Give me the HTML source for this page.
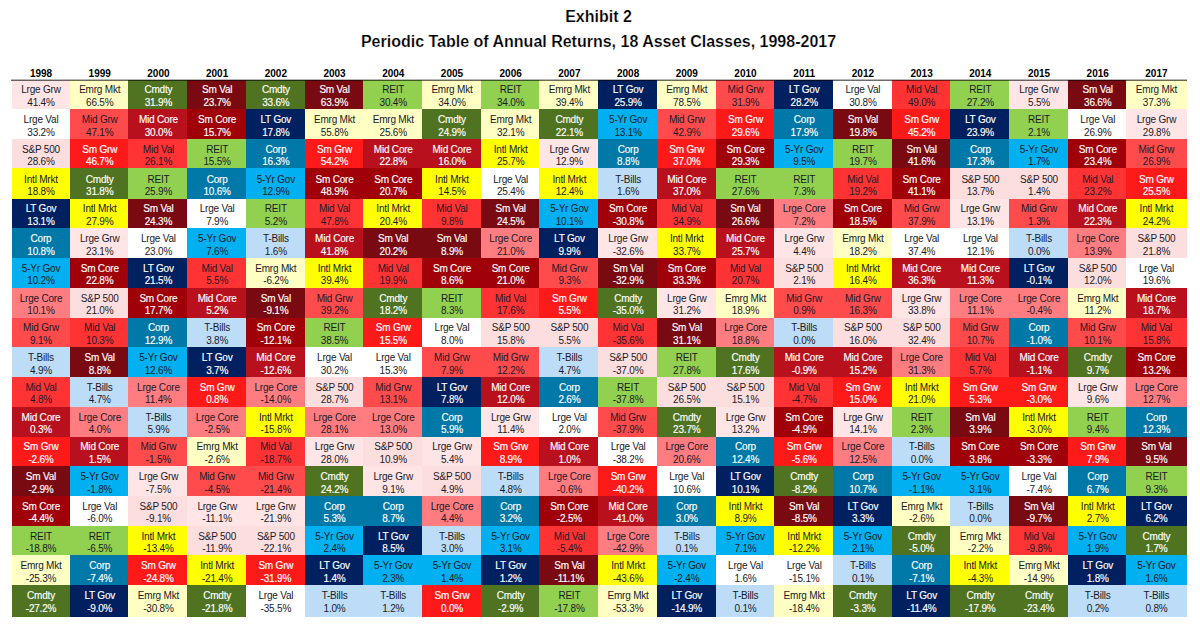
<!DOCTYPE html>
<html><head><meta charset="utf-8"><style>
html,body{margin:0;padding:0;background:#fff;}
body{width:1200px;height:634px;position:relative;overflow:hidden;font-family:"Liberation Sans",sans-serif;}
.t{position:absolute;left:-1.5px;width:1200px;text-align:center;font-weight:bold;color:#000;white-space:nowrap;font-size:16px;-webkit-text-stroke:0.2px #fff;}
.y{position:absolute;top:67px;height:13px;font-size:10px;font-weight:bold;text-align:center;color:#000;line-height:13px;}
.hl{position:absolute;left:11px;width:1176px;top:79px;height:1px;background:rgba(40,30,30,0.32);}
.hl2{position:absolute;left:11px;width:1176px;top:80px;height:1px;background:rgba(0,0,0,0.58);}
.c{position:absolute;}
.c i{position:absolute;width:100px;font-style:normal;text-align:center;font-size:10px;line-height:12.5px;letter-spacing:-0.2px;white-space:nowrap;}
.w i{-webkit-text-stroke:0.15px #fff;}
.d{color:#1a1a28;}
.w{color:#fff;}
</style></head><body>
<div class="t" style="top:7.8px;">Exhibit 2</div>
<div class="t" style="top:32.9px;">Periodic Table of Annual Returns, 18 Asset Classes, 1998-2017</div>

<div class="y" style="left:-9px;width:100px">1998</div>
<div class="y" style="left:49.71px;width:100px">1999</div>
<div class="y" style="left:108.42px;width:100px">2000</div>
<div class="y" style="left:167.13px;width:100px">2001</div>
<div class="y" style="left:225.83px;width:100px">2002</div>
<div class="y" style="left:284.54px;width:100px">2003</div>
<div class="y" style="left:343.25px;width:100px">2004</div>
<div class="y" style="left:401.96px;width:100px">2005</div>
<div class="y" style="left:460.66px;width:100px">2006</div>
<div class="y" style="left:519.37px;width:100px">2007</div>
<div class="y" style="left:578.08px;width:100px">2008</div>
<div class="y" style="left:636.79px;width:100px">2009</div>
<div class="y" style="left:695.49px;width:100px">2010</div>
<div class="y" style="left:754.2px;width:100px">2011</div>
<div class="y" style="left:812.91px;width:100px">2012</div>
<div class="y" style="left:871.62px;width:100px">2013</div>
<div class="y" style="left:930.32px;width:100px">2014</div>
<div class="y" style="left:989.03px;width:100px">2015</div>
<div class="y" style="left:1047.74px;width:100px">2016</div>
<div class="y" style="left:1106.45px;width:100px">2017</div>
<div class="c d" style="left:12px;top:80px;width:58px;height:29px;background:#FFE5E5"><i style="top:4.36px;left:-21px">Lrge Grw<br>41.4%</i></div>
<div class="c d" style="left:12px;top:109px;width:58px;height:30px;background:#FFFFFF"><i style="top:5.11px;left:-21px">Lrge Val<br>33.2%</i></div>
<div class="c d" style="left:12px;top:139px;width:58px;height:29px;background:#FDDEDE"><i style="top:4.87px;left:-21px">S&amp;P 500<br>28.6%</i></div>
<div class="c d" style="left:12px;top:168px;width:58px;height:31px;background:#FFFF00"><i style="top:5.62px;left:-21px">Intl Mrkt<br>18.8%</i></div>
<div class="c w" style="left:12px;top:199px;width:58px;height:29px;background:#002060"><i style="top:4.38px;left:-21px">LT Gov<br>13.1%</i></div>
<div class="c w" style="left:12px;top:228px;width:58px;height:30px;background:#0078A8"><i style="top:5.13px;left:-21px">Corp<br>10.8%</i></div>
<div class="c d" style="left:12px;top:258px;width:58px;height:30px;background:#00B0F0"><i style="top:4.88px;left:-21px">5-Yr Gov<br>10.2%</i></div>
<div class="c d" style="left:12px;top:288px;width:58px;height:30px;background:#FF7C80"><i style="top:4.64px;left:-21px">Lrge Core<br>10.1%</i></div>
<div class="c d" style="left:12px;top:318px;width:58px;height:29px;background:#FF4B4B"><i style="top:4.39px;left:-21px">Mid Grw<br>9.1%</i></div>
<div class="c d" style="left:12px;top:347px;width:58px;height:30px;background:#BDDCF7"><i style="top:5.15px;left:-21px">T-Bills<br>4.9%</i></div>
<div class="c d" style="left:12px;top:377px;width:58px;height:30px;background:#FF3333"><i style="top:4.9px;left:-21px">Mid Val<br>4.8%</i></div>
<div class="c w" style="left:12px;top:407px;width:58px;height:30px;background:#B8101C"><i style="top:4.65px;left:-21px">Mid Core<br>0.3%</i></div>
<div class="c w" style="left:12px;top:437px;width:58px;height:29px;background:#FF1A1A"><i style="top:4.41px;left:-21px">Sm Grw<br>-2.6%</i></div>
<div class="c w" style="left:12px;top:466px;width:58px;height:30px;background:#7A0A12"><i style="top:5.16px;left:-21px">Sm Val<br>-2.9%</i></div>
<div class="c w" style="left:12px;top:496px;width:58px;height:30px;background:#A00008"><i style="top:4.92px;left:-21px">Sm Core<br>-4.4%</i></div>
<div class="c d" style="left:12px;top:526px;width:58px;height:29px;background:#92D050"><i style="top:4.67px;left:-21px">REIT<br>-18.8%</i></div>
<div class="c d" style="left:12px;top:555px;width:58px;height:30px;background:#FFFFC4"><i style="top:5.42px;left:-21px">Emrg Mkt<br>-25.3%</i></div>
<div class="c w" style="left:12px;top:585px;width:58px;height:32px;background:#4F7320"><i style="top:5.18px;left:-21px">Cmdty<br>-27.2%</i></div>
<div class="c d" style="left:70px;top:80px;width:58px;height:29px;background:#FFFFC4"><i style="top:4.36px;left:-20.29px">Emrg Mkt<br>66.5%</i></div>
<div class="c d" style="left:70px;top:109px;width:58px;height:30px;background:#FF4B4B"><i style="top:5.11px;left:-20.29px">Mid Grw<br>47.1%</i></div>
<div class="c w" style="left:70px;top:139px;width:58px;height:29px;background:#FF1A1A"><i style="top:4.87px;left:-20.29px">Sm Grw<br>46.7%</i></div>
<div class="c w" style="left:70px;top:168px;width:58px;height:31px;background:#4F7320"><i style="top:5.62px;left:-20.29px">Cmdty<br>31.8%</i></div>
<div class="c d" style="left:70px;top:199px;width:58px;height:29px;background:#FFFF00"><i style="top:4.38px;left:-20.29px">Intl Mrkt<br>27.9%</i></div>
<div class="c d" style="left:70px;top:228px;width:58px;height:30px;background:#FFE5E5"><i style="top:5.13px;left:-20.29px">Lrge Grw<br>23.1%</i></div>
<div class="c w" style="left:70px;top:258px;width:58px;height:30px;background:#A00008"><i style="top:4.88px;left:-20.29px">Sm Core<br>22.8%</i></div>
<div class="c d" style="left:70px;top:288px;width:58px;height:30px;background:#FDDEDE"><i style="top:4.64px;left:-20.29px">S&amp;P 500<br>21.0%</i></div>
<div class="c d" style="left:70px;top:318px;width:58px;height:29px;background:#FF3333"><i style="top:4.39px;left:-20.29px">Mid Val<br>10.3%</i></div>
<div class="c w" style="left:70px;top:347px;width:58px;height:30px;background:#7A0A12"><i style="top:5.15px;left:-20.29px">Sm Val<br>8.8%</i></div>
<div class="c d" style="left:70px;top:377px;width:58px;height:30px;background:#BDDCF7"><i style="top:4.9px;left:-20.29px">T-Bills<br>4.7%</i></div>
<div class="c d" style="left:70px;top:407px;width:58px;height:30px;background:#FF7C80"><i style="top:4.65px;left:-20.29px">Lrge Core<br>4.0%</i></div>
<div class="c w" style="left:70px;top:437px;width:58px;height:29px;background:#B8101C"><i style="top:4.41px;left:-20.29px">Mid Core<br>1.5%</i></div>
<div class="c d" style="left:70px;top:466px;width:58px;height:30px;background:#00B0F0"><i style="top:5.16px;left:-20.29px">5-Yr Gov<br>-1.8%</i></div>
<div class="c d" style="left:70px;top:496px;width:58px;height:30px;background:#FFFFFF"><i style="top:4.92px;left:-20.29px">Lrge Val<br>-6.0%</i></div>
<div class="c d" style="left:70px;top:526px;width:58px;height:29px;background:#92D050"><i style="top:4.67px;left:-20.29px">REIT<br>-6.5%</i></div>
<div class="c w" style="left:70px;top:555px;width:58px;height:30px;background:#0078A8"><i style="top:5.42px;left:-20.29px">Corp<br>-7.4%</i></div>
<div class="c w" style="left:70px;top:585px;width:58px;height:32px;background:#002060"><i style="top:5.18px;left:-20.29px">LT Gov<br>-9.0%</i></div>
<div class="c w" style="left:128px;top:80px;width:59px;height:29px;background:#4F7320"><i style="top:4.36px;left:-19.58px">Cmdty<br>31.9%</i></div>
<div class="c w" style="left:128px;top:109px;width:59px;height:30px;background:#B8101C"><i style="top:5.11px;left:-19.58px">Mid Core<br>30.0%</i></div>
<div class="c d" style="left:128px;top:139px;width:59px;height:29px;background:#FF3333"><i style="top:4.87px;left:-19.58px">Mid Val<br>26.1%</i></div>
<div class="c d" style="left:128px;top:168px;width:59px;height:31px;background:#92D050"><i style="top:5.62px;left:-19.58px">REIT<br>25.9%</i></div>
<div class="c w" style="left:128px;top:199px;width:59px;height:29px;background:#7A0A12"><i style="top:4.38px;left:-19.58px">Sm Val<br>24.3%</i></div>
<div class="c d" style="left:128px;top:228px;width:59px;height:30px;background:#FFFFFF"><i style="top:5.13px;left:-19.58px">Lrge Val<br>23.0%</i></div>
<div class="c w" style="left:128px;top:258px;width:59px;height:30px;background:#002060"><i style="top:4.88px;left:-19.58px">LT Gov<br>21.5%</i></div>
<div class="c w" style="left:128px;top:288px;width:59px;height:30px;background:#A00008"><i style="top:4.64px;left:-19.58px">Sm Core<br>17.7%</i></div>
<div class="c w" style="left:128px;top:318px;width:59px;height:29px;background:#0078A8"><i style="top:4.39px;left:-19.58px">Corp<br>12.9%</i></div>
<div class="c d" style="left:128px;top:347px;width:59px;height:30px;background:#00B0F0"><i style="top:5.15px;left:-19.58px">5-Yr Gov<br>12.6%</i></div>
<div class="c d" style="left:128px;top:377px;width:59px;height:30px;background:#FF7C80"><i style="top:4.9px;left:-19.58px">Lrge Core<br>11.4%</i></div>
<div class="c d" style="left:128px;top:407px;width:59px;height:30px;background:#BDDCF7"><i style="top:4.65px;left:-19.58px">T-Bills<br>5.9%</i></div>
<div class="c d" style="left:128px;top:437px;width:59px;height:29px;background:#FF4B4B"><i style="top:4.41px;left:-19.58px">Mid Grw<br>-1.5%</i></div>
<div class="c d" style="left:128px;top:466px;width:59px;height:30px;background:#FFE5E5"><i style="top:5.16px;left:-19.58px">Lrge Grw<br>-7.5%</i></div>
<div class="c d" style="left:128px;top:496px;width:59px;height:30px;background:#FDDEDE"><i style="top:4.92px;left:-19.58px">S&amp;P 500<br>-9.1%</i></div>
<div class="c d" style="left:128px;top:526px;width:59px;height:29px;background:#FFFF00"><i style="top:4.67px;left:-19.58px">Intl Mrkt<br>-13.4%</i></div>
<div class="c w" style="left:128px;top:555px;width:59px;height:30px;background:#FF1A1A"><i style="top:5.42px;left:-19.58px">Sm Grw<br>-24.8%</i></div>
<div class="c d" style="left:128px;top:585px;width:59px;height:32px;background:#FFFFC4"><i style="top:5.18px;left:-19.58px">Emrg Mkt<br>-30.8%</i></div>
<div class="c w" style="left:187px;top:80px;width:59px;height:29px;background:#7A0A12"><i style="top:4.36px;left:-19.87px">Sm Val<br>23.7%</i></div>
<div class="c w" style="left:187px;top:109px;width:59px;height:30px;background:#A00008"><i style="top:5.11px;left:-19.87px">Sm Core<br>15.7%</i></div>
<div class="c d" style="left:187px;top:139px;width:59px;height:29px;background:#92D050"><i style="top:4.87px;left:-19.87px">REIT<br>15.5%</i></div>
<div class="c w" style="left:187px;top:168px;width:59px;height:31px;background:#0078A8"><i style="top:5.62px;left:-19.87px">Corp<br>10.6%</i></div>
<div class="c d" style="left:187px;top:199px;width:59px;height:29px;background:#FFFFFF"><i style="top:4.38px;left:-19.87px">Lrge Val<br>7.9%</i></div>
<div class="c d" style="left:187px;top:228px;width:59px;height:30px;background:#00B0F0"><i style="top:5.13px;left:-19.87px">5-Yr Gov<br>7.6%</i></div>
<div class="c d" style="left:187px;top:258px;width:59px;height:30px;background:#FF3333"><i style="top:4.88px;left:-19.87px">Mid Val<br>5.5%</i></div>
<div class="c w" style="left:187px;top:288px;width:59px;height:30px;background:#B8101C"><i style="top:4.64px;left:-19.87px">Mid Core<br>5.2%</i></div>
<div class="c d" style="left:187px;top:318px;width:59px;height:29px;background:#BDDCF7"><i style="top:4.39px;left:-19.87px">T-Bills<br>3.8%</i></div>
<div class="c w" style="left:187px;top:347px;width:59px;height:30px;background:#002060"><i style="top:5.15px;left:-19.87px">LT Gov<br>3.7%</i></div>
<div class="c w" style="left:187px;top:377px;width:59px;height:30px;background:#FF1A1A"><i style="top:4.9px;left:-19.87px">Sm Grw<br>0.8%</i></div>
<div class="c d" style="left:187px;top:407px;width:59px;height:30px;background:#FF7C80"><i style="top:4.65px;left:-19.87px">Lrge Core<br>-2.5%</i></div>
<div class="c d" style="left:187px;top:437px;width:59px;height:29px;background:#FFFFC4"><i style="top:4.41px;left:-19.87px">Emrg Mkt<br>-2.6%</i></div>
<div class="c d" style="left:187px;top:466px;width:59px;height:30px;background:#FF4B4B"><i style="top:5.16px;left:-19.87px">Mid Grw<br>-4.5%</i></div>
<div class="c d" style="left:187px;top:496px;width:59px;height:30px;background:#FFE5E5"><i style="top:4.92px;left:-19.87px">Lrge Grw<br>-11.1%</i></div>
<div class="c d" style="left:187px;top:526px;width:59px;height:29px;background:#FDDEDE"><i style="top:4.67px;left:-19.87px">S&amp;P 500<br>-11.9%</i></div>
<div class="c d" style="left:187px;top:555px;width:59px;height:30px;background:#FFFF00"><i style="top:5.42px;left:-19.87px">Intl Mrkt<br>-21.4%</i></div>
<div class="c w" style="left:187px;top:585px;width:59px;height:32px;background:#4F7320"><i style="top:5.18px;left:-19.87px">Cmdty<br>-21.8%</i></div>
<div class="c w" style="left:246px;top:80px;width:59px;height:29px;background:#4F7320"><i style="top:4.36px;left:-20.17px">Cmdty<br>33.6%</i></div>
<div class="c w" style="left:246px;top:109px;width:59px;height:30px;background:#002060"><i style="top:5.11px;left:-20.17px">LT Gov<br>17.8%</i></div>
<div class="c w" style="left:246px;top:139px;width:59px;height:29px;background:#0078A8"><i style="top:4.87px;left:-20.17px">Corp<br>16.3%</i></div>
<div class="c d" style="left:246px;top:168px;width:59px;height:31px;background:#00B0F0"><i style="top:5.62px;left:-20.17px">5-Yr Gov<br>12.9%</i></div>
<div class="c d" style="left:246px;top:199px;width:59px;height:29px;background:#92D050"><i style="top:4.38px;left:-20.17px">REIT<br>5.2%</i></div>
<div class="c d" style="left:246px;top:228px;width:59px;height:30px;background:#BDDCF7"><i style="top:5.13px;left:-20.17px">T-Bills<br>1.6%</i></div>
<div class="c d" style="left:246px;top:258px;width:59px;height:30px;background:#FFFFC4"><i style="top:4.88px;left:-20.17px">Emrg Mkt<br>-6.2%</i></div>
<div class="c w" style="left:246px;top:288px;width:59px;height:30px;background:#7A0A12"><i style="top:4.64px;left:-20.17px">Sm Val<br>-9.1%</i></div>
<div class="c w" style="left:246px;top:318px;width:59px;height:29px;background:#A00008"><i style="top:4.39px;left:-20.17px">Sm Core<br>-12.1%</i></div>
<div class="c w" style="left:246px;top:347px;width:59px;height:30px;background:#B8101C"><i style="top:5.15px;left:-20.17px">Mid Core<br>-12.6%</i></div>
<div class="c d" style="left:246px;top:377px;width:59px;height:30px;background:#FF7C80"><i style="top:4.9px;left:-20.17px">Lrge Core<br>-14.0%</i></div>
<div class="c d" style="left:246px;top:407px;width:59px;height:30px;background:#FFFF00"><i style="top:4.65px;left:-20.17px">Intl Mrkt<br>-15.8%</i></div>
<div class="c d" style="left:246px;top:437px;width:59px;height:29px;background:#FF3333"><i style="top:4.41px;left:-20.17px">Mid Val<br>-18.7%</i></div>
<div class="c d" style="left:246px;top:466px;width:59px;height:30px;background:#FF4B4B"><i style="top:5.16px;left:-20.17px">Mid Grw<br>-21.4%</i></div>
<div class="c d" style="left:246px;top:496px;width:59px;height:30px;background:#FFE5E5"><i style="top:4.92px;left:-20.17px">Lrge Grw<br>-21.9%</i></div>
<div class="c d" style="left:246px;top:526px;width:59px;height:29px;background:#FDDEDE"><i style="top:4.67px;left:-20.17px">S&amp;P 500<br>-22.1%</i></div>
<div class="c w" style="left:246px;top:555px;width:59px;height:30px;background:#FF1A1A"><i style="top:5.42px;left:-20.17px">Sm Grw<br>-31.9%</i></div>
<div class="c d" style="left:246px;top:585px;width:59px;height:32px;background:#FFFFFF"><i style="top:5.18px;left:-20.17px">Lrge Val<br>-35.5%</i></div>
<div class="c w" style="left:305px;top:80px;width:58px;height:29px;background:#7A0A12"><i style="top:4.36px;left:-20.46px">Sm Val<br>63.9%</i></div>
<div class="c d" style="left:305px;top:109px;width:58px;height:30px;background:#FFFFC4"><i style="top:5.11px;left:-20.46px">Emrg Mkt<br>55.8%</i></div>
<div class="c w" style="left:305px;top:139px;width:58px;height:29px;background:#FF1A1A"><i style="top:4.87px;left:-20.46px">Sm Grw<br>54.2%</i></div>
<div class="c w" style="left:305px;top:168px;width:58px;height:31px;background:#A00008"><i style="top:5.62px;left:-20.46px">Sm Core<br>48.9%</i></div>
<div class="c d" style="left:305px;top:199px;width:58px;height:29px;background:#FF3333"><i style="top:4.38px;left:-20.46px">Mid Val<br>47.8%</i></div>
<div class="c w" style="left:305px;top:228px;width:58px;height:30px;background:#B8101C"><i style="top:5.13px;left:-20.46px">Mid Core<br>41.8%</i></div>
<div class="c d" style="left:305px;top:258px;width:58px;height:30px;background:#FFFF00"><i style="top:4.88px;left:-20.46px">Intl Mrkt<br>39.4%</i></div>
<div class="c d" style="left:305px;top:288px;width:58px;height:30px;background:#FF4B4B"><i style="top:4.64px;left:-20.46px">Mid Grw<br>39.2%</i></div>
<div class="c d" style="left:305px;top:318px;width:58px;height:29px;background:#92D050"><i style="top:4.39px;left:-20.46px">REIT<br>38.5%</i></div>
<div class="c d" style="left:305px;top:347px;width:58px;height:30px;background:#FFFFFF"><i style="top:5.15px;left:-20.46px">Lrge Val<br>30.2%</i></div>
<div class="c d" style="left:305px;top:377px;width:58px;height:30px;background:#FDDEDE"><i style="top:4.9px;left:-20.46px">S&amp;P 500<br>28.7%</i></div>
<div class="c d" style="left:305px;top:407px;width:58px;height:30px;background:#FF7C80"><i style="top:4.65px;left:-20.46px">Lrge Core<br>28.1%</i></div>
<div class="c d" style="left:305px;top:437px;width:58px;height:29px;background:#FFE5E5"><i style="top:4.41px;left:-20.46px">Lrge Grw<br>28.0%</i></div>
<div class="c w" style="left:305px;top:466px;width:58px;height:30px;background:#4F7320"><i style="top:5.16px;left:-20.46px">Cmdty<br>24.2%</i></div>
<div class="c w" style="left:305px;top:496px;width:58px;height:30px;background:#0078A8"><i style="top:4.92px;left:-20.46px">Corp<br>5.3%</i></div>
<div class="c d" style="left:305px;top:526px;width:58px;height:29px;background:#00B0F0"><i style="top:4.67px;left:-20.46px">5-Yr Gov<br>2.4%</i></div>
<div class="c w" style="left:305px;top:555px;width:58px;height:30px;background:#002060"><i style="top:5.42px;left:-20.46px">LT Gov<br>1.4%</i></div>
<div class="c d" style="left:305px;top:585px;width:58px;height:32px;background:#BDDCF7"><i style="top:5.18px;left:-20.46px">T-Bills<br>1.0%</i></div>
<div class="c d" style="left:363px;top:80px;width:59px;height:29px;background:#92D050"><i style="top:4.36px;left:-19.75px">REIT<br>30.4%</i></div>
<div class="c d" style="left:363px;top:109px;width:59px;height:30px;background:#FFFFC4"><i style="top:5.11px;left:-19.75px">Emrg Mkt<br>25.6%</i></div>
<div class="c w" style="left:363px;top:139px;width:59px;height:29px;background:#B8101C"><i style="top:4.87px;left:-19.75px">Mid Core<br>22.8%</i></div>
<div class="c w" style="left:363px;top:168px;width:59px;height:31px;background:#A00008"><i style="top:5.62px;left:-19.75px">Sm Core<br>20.7%</i></div>
<div class="c d" style="left:363px;top:199px;width:59px;height:29px;background:#FFFF00"><i style="top:4.38px;left:-19.75px">Intl Mrkt<br>20.4%</i></div>
<div class="c w" style="left:363px;top:228px;width:59px;height:30px;background:#7A0A12"><i style="top:5.13px;left:-19.75px">Sm Val<br>20.2%</i></div>
<div class="c d" style="left:363px;top:258px;width:59px;height:30px;background:#FF3333"><i style="top:4.88px;left:-19.75px">Mid Val<br>19.9%</i></div>
<div class="c w" style="left:363px;top:288px;width:59px;height:30px;background:#4F7320"><i style="top:4.64px;left:-19.75px">Cmdty<br>18.2%</i></div>
<div class="c w" style="left:363px;top:318px;width:59px;height:29px;background:#FF1A1A"><i style="top:4.39px;left:-19.75px">Sm Grw<br>15.5%</i></div>
<div class="c d" style="left:363px;top:347px;width:59px;height:30px;background:#FFFFFF"><i style="top:5.15px;left:-19.75px">Lrge Val<br>15.3%</i></div>
<div class="c d" style="left:363px;top:377px;width:59px;height:30px;background:#FF4B4B"><i style="top:4.9px;left:-19.75px">Mid Grw<br>13.1%</i></div>
<div class="c d" style="left:363px;top:407px;width:59px;height:30px;background:#FF7C80"><i style="top:4.65px;left:-19.75px">Lrge Core<br>13.0%</i></div>
<div class="c d" style="left:363px;top:437px;width:59px;height:29px;background:#FDDEDE"><i style="top:4.41px;left:-19.75px">S&amp;P 500<br>10.9%</i></div>
<div class="c d" style="left:363px;top:466px;width:59px;height:30px;background:#FFE5E5"><i style="top:5.16px;left:-19.75px">Lrge Grw<br>9.1%</i></div>
<div class="c w" style="left:363px;top:496px;width:59px;height:30px;background:#0078A8"><i style="top:4.92px;left:-19.75px">Corp<br>8.7%</i></div>
<div class="c w" style="left:363px;top:526px;width:59px;height:29px;background:#002060"><i style="top:4.67px;left:-19.75px">LT Gov<br>8.5%</i></div>
<div class="c d" style="left:363px;top:555px;width:59px;height:30px;background:#00B0F0"><i style="top:5.42px;left:-19.75px">5-Yr Gov<br>2.3%</i></div>
<div class="c d" style="left:363px;top:585px;width:59px;height:32px;background:#BDDCF7"><i style="top:5.18px;left:-19.75px">T-Bills<br>1.2%</i></div>
<div class="c d" style="left:422px;top:80px;width:59px;height:29px;background:#FFFFC4"><i style="top:4.36px;left:-20.04px">Emrg Mkt<br>34.0%</i></div>
<div class="c w" style="left:422px;top:109px;width:59px;height:30px;background:#4F7320"><i style="top:5.11px;left:-20.04px">Cmdty<br>24.9%</i></div>
<div class="c w" style="left:422px;top:139px;width:59px;height:29px;background:#B8101C"><i style="top:4.87px;left:-20.04px">Mid Core<br>16.0%</i></div>
<div class="c d" style="left:422px;top:168px;width:59px;height:31px;background:#FFFF00"><i style="top:5.62px;left:-20.04px">Intl Mrkt<br>14.5%</i></div>
<div class="c d" style="left:422px;top:199px;width:59px;height:29px;background:#FF3333"><i style="top:4.38px;left:-20.04px">Mid Val<br>9.8%</i></div>
<div class="c w" style="left:422px;top:228px;width:59px;height:30px;background:#7A0A12"><i style="top:5.13px;left:-20.04px">Sm Val<br>8.9%</i></div>
<div class="c w" style="left:422px;top:258px;width:59px;height:30px;background:#A00008"><i style="top:4.88px;left:-20.04px">Sm Core<br>8.6%</i></div>
<div class="c d" style="left:422px;top:288px;width:59px;height:30px;background:#92D050"><i style="top:4.64px;left:-20.04px">REIT<br>8.3%</i></div>
<div class="c d" style="left:422px;top:318px;width:59px;height:29px;background:#FFFFFF"><i style="top:4.39px;left:-20.04px">Lrge Val<br>8.0%</i></div>
<div class="c d" style="left:422px;top:347px;width:59px;height:30px;background:#FF4B4B"><i style="top:5.15px;left:-20.04px">Mid Grw<br>7.9%</i></div>
<div class="c w" style="left:422px;top:377px;width:59px;height:30px;background:#002060"><i style="top:4.9px;left:-20.04px">LT Gov<br>7.8%</i></div>
<div class="c w" style="left:422px;top:407px;width:59px;height:30px;background:#0078A8"><i style="top:4.65px;left:-20.04px">Corp<br>5.9%</i></div>
<div class="c d" style="left:422px;top:437px;width:59px;height:29px;background:#FFE5E5"><i style="top:4.41px;left:-20.04px">Lrge Grw<br>5.4%</i></div>
<div class="c d" style="left:422px;top:466px;width:59px;height:30px;background:#FDDEDE"><i style="top:5.16px;left:-20.04px">S&amp;P 500<br>4.9%</i></div>
<div class="c d" style="left:422px;top:496px;width:59px;height:30px;background:#FF7C80"><i style="top:4.92px;left:-20.04px">Lrge Core<br>4.4%</i></div>
<div class="c d" style="left:422px;top:526px;width:59px;height:29px;background:#BDDCF7"><i style="top:4.67px;left:-20.04px">T-Bills<br>3.0%</i></div>
<div class="c d" style="left:422px;top:555px;width:59px;height:30px;background:#00B0F0"><i style="top:5.42px;left:-20.04px">5-Yr Gov<br>1.4%</i></div>
<div class="c w" style="left:422px;top:585px;width:59px;height:32px;background:#FF1A1A"><i style="top:5.18px;left:-20.04px">Sm Grw<br>0.0%</i></div>
<div class="c d" style="left:481px;top:80px;width:58px;height:29px;background:#92D050"><i style="top:4.36px;left:-20.34px">REIT<br>34.0%</i></div>
<div class="c d" style="left:481px;top:109px;width:58px;height:30px;background:#FFFFC4"><i style="top:5.11px;left:-20.34px">Emrg Mkt<br>32.1%</i></div>
<div class="c d" style="left:481px;top:139px;width:58px;height:29px;background:#FFFF00"><i style="top:4.87px;left:-20.34px">Intl Mrkt<br>25.7%</i></div>
<div class="c d" style="left:481px;top:168px;width:58px;height:31px;background:#FFFFFF"><i style="top:5.62px;left:-20.34px">Lrge Val<br>25.4%</i></div>
<div class="c w" style="left:481px;top:199px;width:58px;height:29px;background:#7A0A12"><i style="top:4.38px;left:-20.34px">Sm Val<br>24.5%</i></div>
<div class="c d" style="left:481px;top:228px;width:58px;height:30px;background:#FF7C80"><i style="top:5.13px;left:-20.34px">Lrge Core<br>21.0%</i></div>
<div class="c w" style="left:481px;top:258px;width:58px;height:30px;background:#A00008"><i style="top:4.88px;left:-20.34px">Sm Core<br>21.0%</i></div>
<div class="c d" style="left:481px;top:288px;width:58px;height:30px;background:#FF3333"><i style="top:4.64px;left:-20.34px">Mid Val<br>17.6%</i></div>
<div class="c d" style="left:481px;top:318px;width:58px;height:29px;background:#FDDEDE"><i style="top:4.39px;left:-20.34px">S&amp;P 500<br>15.8%</i></div>
<div class="c d" style="left:481px;top:347px;width:58px;height:30px;background:#FF4B4B"><i style="top:5.15px;left:-20.34px">Mid Grw<br>12.2%</i></div>
<div class="c w" style="left:481px;top:377px;width:58px;height:30px;background:#B8101C"><i style="top:4.9px;left:-20.34px">Mid Core<br>12.0%</i></div>
<div class="c d" style="left:481px;top:407px;width:58px;height:30px;background:#FFE5E5"><i style="top:4.65px;left:-20.34px">Lrge Grw<br>11.4%</i></div>
<div class="c w" style="left:481px;top:437px;width:58px;height:29px;background:#FF1A1A"><i style="top:4.41px;left:-20.34px">Sm Grw<br>8.9%</i></div>
<div class="c d" style="left:481px;top:466px;width:58px;height:30px;background:#BDDCF7"><i style="top:5.16px;left:-20.34px">T-Bills<br>4.8%</i></div>
<div class="c w" style="left:481px;top:496px;width:58px;height:30px;background:#0078A8"><i style="top:4.92px;left:-20.34px">Corp<br>3.2%</i></div>
<div class="c d" style="left:481px;top:526px;width:58px;height:29px;background:#00B0F0"><i style="top:4.67px;left:-20.34px">5-Yr Gov<br>3.1%</i></div>
<div class="c w" style="left:481px;top:555px;width:58px;height:30px;background:#002060"><i style="top:5.42px;left:-20.34px">LT Gov<br>1.2%</i></div>
<div class="c w" style="left:481px;top:585px;width:58px;height:32px;background:#4F7320"><i style="top:5.18px;left:-20.34px">Cmdty<br>-2.9%</i></div>
<div class="c d" style="left:539px;top:80px;width:59px;height:29px;background:#FFFFC4"><i style="top:4.36px;left:-19.63px">Emrg Mkt<br>39.4%</i></div>
<div class="c w" style="left:539px;top:109px;width:59px;height:30px;background:#4F7320"><i style="top:5.11px;left:-19.63px">Cmdty<br>22.1%</i></div>
<div class="c d" style="left:539px;top:139px;width:59px;height:29px;background:#FFE5E5"><i style="top:4.87px;left:-19.63px">Lrge Grw<br>12.9%</i></div>
<div class="c d" style="left:539px;top:168px;width:59px;height:31px;background:#FFFF00"><i style="top:5.62px;left:-19.63px">Intl Mrkt<br>12.4%</i></div>
<div class="c d" style="left:539px;top:199px;width:59px;height:29px;background:#00B0F0"><i style="top:4.38px;left:-19.63px">5-Yr Gov<br>10.1%</i></div>
<div class="c w" style="left:539px;top:228px;width:59px;height:30px;background:#002060"><i style="top:5.13px;left:-19.63px">LT Gov<br>9.9%</i></div>
<div class="c d" style="left:539px;top:258px;width:59px;height:30px;background:#FF4B4B"><i style="top:4.88px;left:-19.63px">Mid Grw<br>9.3%</i></div>
<div class="c w" style="left:539px;top:288px;width:59px;height:30px;background:#FF1A1A"><i style="top:4.64px;left:-19.63px">Sm Grw<br>5.5%</i></div>
<div class="c d" style="left:539px;top:318px;width:59px;height:29px;background:#FDDEDE"><i style="top:4.39px;left:-19.63px">S&amp;P 500<br>5.5%</i></div>
<div class="c d" style="left:539px;top:347px;width:59px;height:30px;background:#BDDCF7"><i style="top:5.15px;left:-19.63px">T-Bills<br>4.7%</i></div>
<div class="c w" style="left:539px;top:377px;width:59px;height:30px;background:#0078A8"><i style="top:4.9px;left:-19.63px">Corp<br>2.6%</i></div>
<div class="c d" style="left:539px;top:407px;width:59px;height:30px;background:#FFFFFF"><i style="top:4.65px;left:-19.63px">Lrge Val<br>2.0%</i></div>
<div class="c w" style="left:539px;top:437px;width:59px;height:29px;background:#B8101C"><i style="top:4.41px;left:-19.63px">Mid Core<br>1.0%</i></div>
<div class="c d" style="left:539px;top:466px;width:59px;height:30px;background:#FF7C80"><i style="top:5.16px;left:-19.63px">Lrge Core<br>-0.6%</i></div>
<div class="c w" style="left:539px;top:496px;width:59px;height:30px;background:#A00008"><i style="top:4.92px;left:-19.63px">Sm Core<br>-2.5%</i></div>
<div class="c d" style="left:539px;top:526px;width:59px;height:29px;background:#FF3333"><i style="top:4.67px;left:-19.63px">Mid Val<br>-5.4%</i></div>
<div class="c w" style="left:539px;top:555px;width:59px;height:30px;background:#7A0A12"><i style="top:5.42px;left:-19.63px">Sm Val<br>-11.1%</i></div>
<div class="c d" style="left:539px;top:585px;width:59px;height:32px;background:#92D050"><i style="top:5.18px;left:-19.63px">REIT<br>-17.8%</i></div>
<div class="c w" style="left:598px;top:80px;width:59px;height:29px;background:#002060"><i style="top:4.36px;left:-19.92px">LT Gov<br>25.9%</i></div>
<div class="c d" style="left:598px;top:109px;width:59px;height:30px;background:#00B0F0"><i style="top:5.11px;left:-19.92px">5-Yr Gov<br>13.1%</i></div>
<div class="c w" style="left:598px;top:139px;width:59px;height:29px;background:#0078A8"><i style="top:4.87px;left:-19.92px">Corp<br>8.8%</i></div>
<div class="c d" style="left:598px;top:168px;width:59px;height:31px;background:#BDDCF7"><i style="top:5.62px;left:-19.92px">T-Bills<br>1.6%</i></div>
<div class="c w" style="left:598px;top:199px;width:59px;height:29px;background:#A00008"><i style="top:4.38px;left:-19.92px">Sm Core<br>-30.8%</i></div>
<div class="c d" style="left:598px;top:228px;width:59px;height:30px;background:#FFE5E5"><i style="top:5.13px;left:-19.92px">Lrge Grw<br>-32.6%</i></div>
<div class="c w" style="left:598px;top:258px;width:59px;height:30px;background:#7A0A12"><i style="top:4.88px;left:-19.92px">Sm Val<br>-32.9%</i></div>
<div class="c w" style="left:598px;top:288px;width:59px;height:30px;background:#4F7320"><i style="top:4.64px;left:-19.92px">Cmdty<br>-35.0%</i></div>
<div class="c d" style="left:598px;top:318px;width:59px;height:29px;background:#FF3333"><i style="top:4.39px;left:-19.92px">Mid Val<br>-35.6%</i></div>
<div class="c d" style="left:598px;top:347px;width:59px;height:30px;background:#FDDEDE"><i style="top:5.15px;left:-19.92px">S&amp;P 500<br>-37.0%</i></div>
<div class="c d" style="left:598px;top:377px;width:59px;height:30px;background:#92D050"><i style="top:4.9px;left:-19.92px">REIT<br>-37.8%</i></div>
<div class="c d" style="left:598px;top:407px;width:59px;height:30px;background:#FF4B4B"><i style="top:4.65px;left:-19.92px">Mid Grw<br>-37.9%</i></div>
<div class="c d" style="left:598px;top:437px;width:59px;height:29px;background:#FFFFFF"><i style="top:4.41px;left:-19.92px">Lrge Val<br>-38.2%</i></div>
<div class="c w" style="left:598px;top:466px;width:59px;height:30px;background:#FF1A1A"><i style="top:5.16px;left:-19.92px">Sm Grw<br>-40.2%</i></div>
<div class="c w" style="left:598px;top:496px;width:59px;height:30px;background:#B8101C"><i style="top:4.92px;left:-19.92px">Mid Core<br>-41.0%</i></div>
<div class="c d" style="left:598px;top:526px;width:59px;height:29px;background:#FF7C80"><i style="top:4.67px;left:-19.92px">Lrge Core<br>-42.9%</i></div>
<div class="c d" style="left:598px;top:555px;width:59px;height:30px;background:#FFFF00"><i style="top:5.42px;left:-19.92px">Intl Mrkt<br>-43.6%</i></div>
<div class="c d" style="left:598px;top:585px;width:59px;height:32px;background:#FFFFC4"><i style="top:5.18px;left:-19.92px">Emrg Mkt<br>-53.3%</i></div>
<div class="c d" style="left:657px;top:80px;width:59px;height:29px;background:#FFFFC4"><i style="top:4.36px;left:-20.21px">Emrg Mkt<br>78.5%</i></div>
<div class="c d" style="left:657px;top:109px;width:59px;height:30px;background:#FF4B4B"><i style="top:5.11px;left:-20.21px">Mid Grw<br>42.9%</i></div>
<div class="c w" style="left:657px;top:139px;width:59px;height:29px;background:#FF1A1A"><i style="top:4.87px;left:-20.21px">Sm Grw<br>37.0%</i></div>
<div class="c w" style="left:657px;top:168px;width:59px;height:31px;background:#B8101C"><i style="top:5.62px;left:-20.21px">Mid Core<br>37.0%</i></div>
<div class="c d" style="left:657px;top:199px;width:59px;height:29px;background:#FF3333"><i style="top:4.38px;left:-20.21px">Mid Val<br>34.9%</i></div>
<div class="c d" style="left:657px;top:228px;width:59px;height:30px;background:#FFFF00"><i style="top:5.13px;left:-20.21px">Intl Mrkt<br>33.7%</i></div>
<div class="c w" style="left:657px;top:258px;width:59px;height:30px;background:#A00008"><i style="top:4.88px;left:-20.21px">Sm Core<br>33.3%</i></div>
<div class="c d" style="left:657px;top:288px;width:59px;height:30px;background:#FFE5E5"><i style="top:4.64px;left:-20.21px">Lrge Grw<br>31.2%</i></div>
<div class="c w" style="left:657px;top:318px;width:59px;height:29px;background:#7A0A12"><i style="top:4.39px;left:-20.21px">Sm Val<br>31.1%</i></div>
<div class="c d" style="left:657px;top:347px;width:59px;height:30px;background:#92D050"><i style="top:5.15px;left:-20.21px">REIT<br>27.8%</i></div>
<div class="c d" style="left:657px;top:377px;width:59px;height:30px;background:#FDDEDE"><i style="top:4.9px;left:-20.21px">S&amp;P 500<br>26.5%</i></div>
<div class="c w" style="left:657px;top:407px;width:59px;height:30px;background:#4F7320"><i style="top:4.65px;left:-20.21px">Cmdty<br>23.7%</i></div>
<div class="c d" style="left:657px;top:437px;width:59px;height:29px;background:#FF7C80"><i style="top:4.41px;left:-20.21px">Lrge Core<br>20.6%</i></div>
<div class="c d" style="left:657px;top:466px;width:59px;height:30px;background:#FFFFFF"><i style="top:5.16px;left:-20.21px">Lrge Val<br>10.6%</i></div>
<div class="c w" style="left:657px;top:496px;width:59px;height:30px;background:#0078A8"><i style="top:4.92px;left:-20.21px">Corp<br>3.0%</i></div>
<div class="c d" style="left:657px;top:526px;width:59px;height:29px;background:#BDDCF7"><i style="top:4.67px;left:-20.21px">T-Bills<br>0.1%</i></div>
<div class="c d" style="left:657px;top:555px;width:59px;height:30px;background:#00B0F0"><i style="top:5.42px;left:-20.21px">5-Yr Gov<br>-2.4%</i></div>
<div class="c w" style="left:657px;top:585px;width:59px;height:32px;background:#002060"><i style="top:5.18px;left:-20.21px">LT Gov<br>-14.9%</i></div>
<div class="c d" style="left:716px;top:80px;width:58px;height:29px;background:#FF4B4B"><i style="top:4.36px;left:-20.51px">Mid Grw<br>31.9%</i></div>
<div class="c w" style="left:716px;top:109px;width:58px;height:30px;background:#FF1A1A"><i style="top:5.11px;left:-20.51px">Sm Grw<br>29.6%</i></div>
<div class="c w" style="left:716px;top:139px;width:58px;height:29px;background:#A00008"><i style="top:4.87px;left:-20.51px">Sm Core<br>29.3%</i></div>
<div class="c d" style="left:716px;top:168px;width:58px;height:31px;background:#92D050"><i style="top:5.62px;left:-20.51px">REIT<br>27.6%</i></div>
<div class="c w" style="left:716px;top:199px;width:58px;height:29px;background:#7A0A12"><i style="top:4.38px;left:-20.51px">Sm Val<br>26.6%</i></div>
<div class="c w" style="left:716px;top:228px;width:58px;height:30px;background:#B8101C"><i style="top:5.13px;left:-20.51px">Mid Core<br>25.7%</i></div>
<div class="c d" style="left:716px;top:258px;width:58px;height:30px;background:#FF3333"><i style="top:4.88px;left:-20.51px">Mid Val<br>20.7%</i></div>
<div class="c d" style="left:716px;top:288px;width:58px;height:30px;background:#FFFFC4"><i style="top:4.64px;left:-20.51px">Emrg Mkt<br>18.9%</i></div>
<div class="c d" style="left:716px;top:318px;width:58px;height:29px;background:#FF7C80"><i style="top:4.39px;left:-20.51px">Lrge Core<br>18.8%</i></div>
<div class="c w" style="left:716px;top:347px;width:58px;height:30px;background:#4F7320"><i style="top:5.15px;left:-20.51px">Cmdty<br>17.6%</i></div>
<div class="c d" style="left:716px;top:377px;width:58px;height:30px;background:#FDDEDE"><i style="top:4.9px;left:-20.51px">S&amp;P 500<br>15.1%</i></div>
<div class="c d" style="left:716px;top:407px;width:58px;height:30px;background:#FFE5E5"><i style="top:4.65px;left:-20.51px">Lrge Grw<br>13.2%</i></div>
<div class="c w" style="left:716px;top:437px;width:58px;height:29px;background:#0078A8"><i style="top:4.41px;left:-20.51px">Corp<br>12.4%</i></div>
<div class="c w" style="left:716px;top:466px;width:58px;height:30px;background:#002060"><i style="top:5.16px;left:-20.51px">LT Gov<br>10.1%</i></div>
<div class="c d" style="left:716px;top:496px;width:58px;height:30px;background:#FFFF00"><i style="top:4.92px;left:-20.51px">Intl Mrkt<br>8.9%</i></div>
<div class="c d" style="left:716px;top:526px;width:58px;height:29px;background:#00B0F0"><i style="top:4.67px;left:-20.51px">5-Yr Gov<br>7.1%</i></div>
<div class="c d" style="left:716px;top:555px;width:58px;height:30px;background:#FFFFFF"><i style="top:5.42px;left:-20.51px">Lrge Val<br>1.6%</i></div>
<div class="c d" style="left:716px;top:585px;width:58px;height:32px;background:#BDDCF7"><i style="top:5.18px;left:-20.51px">T-Bills<br>0.1%</i></div>
<div class="c w" style="left:774px;top:80px;width:59px;height:29px;background:#002060"><i style="top:4.36px;left:-19.8px">LT Gov<br>28.2%</i></div>
<div class="c w" style="left:774px;top:109px;width:59px;height:30px;background:#0078A8"><i style="top:5.11px;left:-19.8px">Corp<br>17.9%</i></div>
<div class="c d" style="left:774px;top:139px;width:59px;height:29px;background:#00B0F0"><i style="top:4.87px;left:-19.8px">5-Yr Gov<br>9.5%</i></div>
<div class="c d" style="left:774px;top:168px;width:59px;height:31px;background:#92D050"><i style="top:5.62px;left:-19.8px">REIT<br>7.3%</i></div>
<div class="c d" style="left:774px;top:199px;width:59px;height:29px;background:#FF7C80"><i style="top:4.38px;left:-19.8px">Lrge Core<br>7.2%</i></div>
<div class="c d" style="left:774px;top:228px;width:59px;height:30px;background:#FFE5E5"><i style="top:5.13px;left:-19.8px">Lrge Grw<br>4.4%</i></div>
<div class="c d" style="left:774px;top:258px;width:59px;height:30px;background:#FDDEDE"><i style="top:4.88px;left:-19.8px">S&amp;P 500<br>2.1%</i></div>
<div class="c d" style="left:774px;top:288px;width:59px;height:30px;background:#FF4B4B"><i style="top:4.64px;left:-19.8px">Mid Grw<br>0.9%</i></div>
<div class="c d" style="left:774px;top:318px;width:59px;height:29px;background:#BDDCF7"><i style="top:4.39px;left:-19.8px">T-Bills<br>0.0%</i></div>
<div class="c w" style="left:774px;top:347px;width:59px;height:30px;background:#B8101C"><i style="top:5.15px;left:-19.8px">Mid Core<br>-0.9%</i></div>
<div class="c d" style="left:774px;top:377px;width:59px;height:30px;background:#FF3333"><i style="top:4.9px;left:-19.8px">Mid Val<br>-4.7%</i></div>
<div class="c w" style="left:774px;top:407px;width:59px;height:30px;background:#A00008"><i style="top:4.65px;left:-19.8px">Sm Core<br>-4.9%</i></div>
<div class="c w" style="left:774px;top:437px;width:59px;height:29px;background:#FF1A1A"><i style="top:4.41px;left:-19.8px">Sm Grw<br>-5.6%</i></div>
<div class="c w" style="left:774px;top:466px;width:59px;height:30px;background:#4F7320"><i style="top:5.16px;left:-19.8px">Cmdty<br>-8.2%</i></div>
<div class="c w" style="left:774px;top:496px;width:59px;height:30px;background:#7A0A12"><i style="top:4.92px;left:-19.8px">Sm Val<br>-8.5%</i></div>
<div class="c d" style="left:774px;top:526px;width:59px;height:29px;background:#FFFF00"><i style="top:4.67px;left:-19.8px">Intl Mrkt<br>-12.2%</i></div>
<div class="c d" style="left:774px;top:555px;width:59px;height:30px;background:#FFFFFF"><i style="top:5.42px;left:-19.8px">Lrge Val<br>-15.1%</i></div>
<div class="c d" style="left:774px;top:585px;width:59px;height:32px;background:#FFFFC4"><i style="top:5.18px;left:-19.8px">Emrg Mkt<br>-18.4%</i></div>
<div class="c d" style="left:833px;top:80px;width:59px;height:29px;background:#FFFFFF"><i style="top:4.36px;left:-20.09px">Lrge Val<br>30.8%</i></div>
<div class="c w" style="left:833px;top:109px;width:59px;height:30px;background:#7A0A12"><i style="top:5.11px;left:-20.09px">Sm Val<br>19.8%</i></div>
<div class="c d" style="left:833px;top:139px;width:59px;height:29px;background:#92D050"><i style="top:4.87px;left:-20.09px">REIT<br>19.7%</i></div>
<div class="c d" style="left:833px;top:168px;width:59px;height:31px;background:#FF3333"><i style="top:5.62px;left:-20.09px">Mid Val<br>19.2%</i></div>
<div class="c w" style="left:833px;top:199px;width:59px;height:29px;background:#A00008"><i style="top:4.38px;left:-20.09px">Sm Core<br>18.5%</i></div>
<div class="c d" style="left:833px;top:228px;width:59px;height:30px;background:#FFFFC4"><i style="top:5.13px;left:-20.09px">Emrg Mkt<br>18.2%</i></div>
<div class="c d" style="left:833px;top:258px;width:59px;height:30px;background:#FFFF00"><i style="top:4.88px;left:-20.09px">Intl Mrkt<br>16.4%</i></div>
<div class="c d" style="left:833px;top:288px;width:59px;height:30px;background:#FF4B4B"><i style="top:4.64px;left:-20.09px">Mid Grw<br>16.3%</i></div>
<div class="c d" style="left:833px;top:318px;width:59px;height:29px;background:#FDDEDE"><i style="top:4.39px;left:-20.09px">S&amp;P 500<br>16.0%</i></div>
<div class="c w" style="left:833px;top:347px;width:59px;height:30px;background:#B8101C"><i style="top:5.15px;left:-20.09px">Mid Core<br>15.2%</i></div>
<div class="c w" style="left:833px;top:377px;width:59px;height:30px;background:#FF1A1A"><i style="top:4.9px;left:-20.09px">Sm Grw<br>15.0%</i></div>
<div class="c d" style="left:833px;top:407px;width:59px;height:30px;background:#FFE5E5"><i style="top:4.65px;left:-20.09px">Lrge Grw<br>14.1%</i></div>
<div class="c d" style="left:833px;top:437px;width:59px;height:29px;background:#FF7C80"><i style="top:4.41px;left:-20.09px">Lrge Core<br>12.5%</i></div>
<div class="c w" style="left:833px;top:466px;width:59px;height:30px;background:#0078A8"><i style="top:5.16px;left:-20.09px">Corp<br>10.7%</i></div>
<div class="c w" style="left:833px;top:496px;width:59px;height:30px;background:#002060"><i style="top:4.92px;left:-20.09px">LT Gov<br>3.3%</i></div>
<div class="c d" style="left:833px;top:526px;width:59px;height:29px;background:#00B0F0"><i style="top:4.67px;left:-20.09px">5-Yr Gov<br>2.1%</i></div>
<div class="c d" style="left:833px;top:555px;width:59px;height:30px;background:#BDDCF7"><i style="top:5.42px;left:-20.09px">T-Bills<br>0.1%</i></div>
<div class="c w" style="left:833px;top:585px;width:59px;height:32px;background:#4F7320"><i style="top:5.18px;left:-20.09px">Cmdty<br>-3.3%</i></div>
<div class="c d" style="left:892px;top:80px;width:58px;height:29px;background:#FF3333"><i style="top:4.36px;left:-20.38px">Mid Val<br>49.0%</i></div>
<div class="c w" style="left:892px;top:109px;width:58px;height:30px;background:#FF1A1A"><i style="top:5.11px;left:-20.38px">Sm Grw<br>45.2%</i></div>
<div class="c w" style="left:892px;top:139px;width:58px;height:29px;background:#7A0A12"><i style="top:4.87px;left:-20.38px">Sm Val<br>41.6%</i></div>
<div class="c w" style="left:892px;top:168px;width:58px;height:31px;background:#A00008"><i style="top:5.62px;left:-20.38px">Sm Core<br>41.1%</i></div>
<div class="c d" style="left:892px;top:199px;width:58px;height:29px;background:#FF4B4B"><i style="top:4.38px;left:-20.38px">Mid Grw<br>37.9%</i></div>
<div class="c d" style="left:892px;top:228px;width:58px;height:30px;background:#FFFFFF"><i style="top:5.13px;left:-20.38px">Lrge Val<br>37.4%</i></div>
<div class="c w" style="left:892px;top:258px;width:58px;height:30px;background:#B8101C"><i style="top:4.88px;left:-20.38px">Mid Core<br>36.3%</i></div>
<div class="c d" style="left:892px;top:288px;width:58px;height:30px;background:#FFE5E5"><i style="top:4.64px;left:-20.38px">Lrge Grw<br>33.8%</i></div>
<div class="c d" style="left:892px;top:318px;width:58px;height:29px;background:#FDDEDE"><i style="top:4.39px;left:-20.38px">S&amp;P 500<br>32.4%</i></div>
<div class="c d" style="left:892px;top:347px;width:58px;height:30px;background:#FF7C80"><i style="top:5.15px;left:-20.38px">Lrge Core<br>31.3%</i></div>
<div class="c d" style="left:892px;top:377px;width:58px;height:30px;background:#FFFF00"><i style="top:4.9px;left:-20.38px">Intl Mrkt<br>21.0%</i></div>
<div class="c d" style="left:892px;top:407px;width:58px;height:30px;background:#92D050"><i style="top:4.65px;left:-20.38px">REIT<br>2.3%</i></div>
<div class="c d" style="left:892px;top:437px;width:58px;height:29px;background:#BDDCF7"><i style="top:4.41px;left:-20.38px">T-Bills<br>0.0%</i></div>
<div class="c d" style="left:892px;top:466px;width:58px;height:30px;background:#00B0F0"><i style="top:5.16px;left:-20.38px">5-Yr Gov<br>-1.1%</i></div>
<div class="c d" style="left:892px;top:496px;width:58px;height:30px;background:#FFFFC4"><i style="top:4.92px;left:-20.38px">Emrg Mkt<br>-2.6%</i></div>
<div class="c w" style="left:892px;top:526px;width:58px;height:29px;background:#4F7320"><i style="top:4.67px;left:-20.38px">Cmdty<br>-5.0%</i></div>
<div class="c w" style="left:892px;top:555px;width:58px;height:30px;background:#0078A8"><i style="top:5.42px;left:-20.38px">Corp<br>-7.1%</i></div>
<div class="c w" style="left:892px;top:585px;width:58px;height:32px;background:#002060"><i style="top:5.18px;left:-20.38px">LT Gov<br>-11.4%</i></div>
<div class="c d" style="left:950px;top:80px;width:59px;height:29px;background:#92D050"><i style="top:4.36px;left:-19.68px">REIT<br>27.2%</i></div>
<div class="c w" style="left:950px;top:109px;width:59px;height:30px;background:#002060"><i style="top:5.11px;left:-19.68px">LT Gov<br>23.9%</i></div>
<div class="c w" style="left:950px;top:139px;width:59px;height:29px;background:#0078A8"><i style="top:4.87px;left:-19.68px">Corp<br>17.3%</i></div>
<div class="c d" style="left:950px;top:168px;width:59px;height:31px;background:#FDDEDE"><i style="top:5.62px;left:-19.68px">S&amp;P 500<br>13.7%</i></div>
<div class="c d" style="left:950px;top:199px;width:59px;height:29px;background:#FFE5E5"><i style="top:4.38px;left:-19.68px">Lrge Grw<br>13.1%</i></div>
<div class="c d" style="left:950px;top:228px;width:59px;height:30px;background:#FFFFFF"><i style="top:5.13px;left:-19.68px">Lrge Val<br>12.1%</i></div>
<div class="c w" style="left:950px;top:258px;width:59px;height:30px;background:#B8101C"><i style="top:4.88px;left:-19.68px">Mid Core<br>11.3%</i></div>
<div class="c d" style="left:950px;top:288px;width:59px;height:30px;background:#FF7C80"><i style="top:4.64px;left:-19.68px">Lrge Core<br>11.1%</i></div>
<div class="c d" style="left:950px;top:318px;width:59px;height:29px;background:#FF4B4B"><i style="top:4.39px;left:-19.68px">Mid Grw<br>10.7%</i></div>
<div class="c d" style="left:950px;top:347px;width:59px;height:30px;background:#FF3333"><i style="top:5.15px;left:-19.68px">Mid Val<br>5.7%</i></div>
<div class="c w" style="left:950px;top:377px;width:59px;height:30px;background:#FF1A1A"><i style="top:4.9px;left:-19.68px">Sm Grw<br>5.3%</i></div>
<div class="c w" style="left:950px;top:407px;width:59px;height:30px;background:#7A0A12"><i style="top:4.65px;left:-19.68px">Sm Val<br>3.9%</i></div>
<div class="c w" style="left:950px;top:437px;width:59px;height:29px;background:#A00008"><i style="top:4.41px;left:-19.68px">Sm Core<br>3.8%</i></div>
<div class="c d" style="left:950px;top:466px;width:59px;height:30px;background:#00B0F0"><i style="top:5.16px;left:-19.68px">5-Yr Gov<br>3.1%</i></div>
<div class="c d" style="left:950px;top:496px;width:59px;height:30px;background:#BDDCF7"><i style="top:4.92px;left:-19.68px">T-Bills<br>0.0%</i></div>
<div class="c d" style="left:950px;top:526px;width:59px;height:29px;background:#FFFFC4"><i style="top:4.67px;left:-19.68px">Emrg Mkt<br>-2.2%</i></div>
<div class="c d" style="left:950px;top:555px;width:59px;height:30px;background:#FFFF00"><i style="top:5.42px;left:-19.68px">Intl Mrkt<br>-4.3%</i></div>
<div class="c w" style="left:950px;top:585px;width:59px;height:32px;background:#4F7320"><i style="top:5.18px;left:-19.68px">Cmdty<br>-17.9%</i></div>
<div class="c d" style="left:1009px;top:80px;width:59px;height:29px;background:#FFE5E5"><i style="top:4.36px;left:-19.97px">Lrge Grw<br>5.5%</i></div>
<div class="c d" style="left:1009px;top:109px;width:59px;height:30px;background:#92D050"><i style="top:5.11px;left:-19.97px">REIT<br>2.1%</i></div>
<div class="c d" style="left:1009px;top:139px;width:59px;height:29px;background:#00B0F0"><i style="top:4.87px;left:-19.97px">5-Yr Gov<br>1.7%</i></div>
<div class="c d" style="left:1009px;top:168px;width:59px;height:31px;background:#FDDEDE"><i style="top:5.62px;left:-19.97px">S&amp;P 500<br>1.4%</i></div>
<div class="c d" style="left:1009px;top:199px;width:59px;height:29px;background:#FF4B4B"><i style="top:4.38px;left:-19.97px">Mid Grw<br>1.3%</i></div>
<div class="c d" style="left:1009px;top:228px;width:59px;height:30px;background:#BDDCF7"><i style="top:5.13px;left:-19.97px">T-Bills<br>0.0%</i></div>
<div class="c w" style="left:1009px;top:258px;width:59px;height:30px;background:#002060"><i style="top:4.88px;left:-19.97px">LT Gov<br>-0.1%</i></div>
<div class="c d" style="left:1009px;top:288px;width:59px;height:30px;background:#FF7C80"><i style="top:4.64px;left:-19.97px">Lrge Core<br>-0.4%</i></div>
<div class="c w" style="left:1009px;top:318px;width:59px;height:29px;background:#0078A8"><i style="top:4.39px;left:-19.97px">Corp<br>-1.0%</i></div>
<div class="c w" style="left:1009px;top:347px;width:59px;height:30px;background:#B8101C"><i style="top:5.15px;left:-19.97px">Mid Core<br>-1.1%</i></div>
<div class="c w" style="left:1009px;top:377px;width:59px;height:30px;background:#FF1A1A"><i style="top:4.9px;left:-19.97px">Sm Grw<br>-3.0%</i></div>
<div class="c d" style="left:1009px;top:407px;width:59px;height:30px;background:#FFFF00"><i style="top:4.65px;left:-19.97px">Intl Mrkt<br>-3.0%</i></div>
<div class="c w" style="left:1009px;top:437px;width:59px;height:29px;background:#A00008"><i style="top:4.41px;left:-19.97px">Sm Core<br>-3.3%</i></div>
<div class="c d" style="left:1009px;top:466px;width:59px;height:30px;background:#FFFFFF"><i style="top:5.16px;left:-19.97px">Lrge Val<br>-7.4%</i></div>
<div class="c w" style="left:1009px;top:496px;width:59px;height:30px;background:#7A0A12"><i style="top:4.92px;left:-19.97px">Sm Val<br>-9.7%</i></div>
<div class="c d" style="left:1009px;top:526px;width:59px;height:29px;background:#FF3333"><i style="top:4.67px;left:-19.97px">Mid Val<br>-9.8%</i></div>
<div class="c d" style="left:1009px;top:555px;width:59px;height:30px;background:#FFFFC4"><i style="top:5.42px;left:-19.97px">Emrg Mkt<br>-14.9%</i></div>
<div class="c w" style="left:1009px;top:585px;width:59px;height:32px;background:#4F7320"><i style="top:5.18px;left:-19.97px">Cmdty<br>-23.4%</i></div>
<div class="c w" style="left:1068px;top:80px;width:58px;height:29px;background:#7A0A12"><i style="top:4.36px;left:-20.26px">Sm Val<br>36.6%</i></div>
<div class="c d" style="left:1068px;top:109px;width:58px;height:30px;background:#FFFFFF"><i style="top:5.11px;left:-20.26px">Lrge Val<br>26.9%</i></div>
<div class="c w" style="left:1068px;top:139px;width:58px;height:29px;background:#A00008"><i style="top:4.87px;left:-20.26px">Sm Core<br>23.4%</i></div>
<div class="c d" style="left:1068px;top:168px;width:58px;height:31px;background:#FF3333"><i style="top:5.62px;left:-20.26px">Mid Val<br>23.2%</i></div>
<div class="c w" style="left:1068px;top:199px;width:58px;height:29px;background:#B8101C"><i style="top:4.38px;left:-20.26px">Mid Core<br>22.3%</i></div>
<div class="c d" style="left:1068px;top:228px;width:58px;height:30px;background:#FF7C80"><i style="top:5.13px;left:-20.26px">Lrge Core<br>13.9%</i></div>
<div class="c d" style="left:1068px;top:258px;width:58px;height:30px;background:#FDDEDE"><i style="top:4.88px;left:-20.26px">S&amp;P 500<br>12.0%</i></div>
<div class="c d" style="left:1068px;top:288px;width:58px;height:30px;background:#FFFFC4"><i style="top:4.64px;left:-20.26px">Emrg Mkt<br>11.2%</i></div>
<div class="c d" style="left:1068px;top:318px;width:58px;height:29px;background:#FF4B4B"><i style="top:4.39px;left:-20.26px">Mid Grw<br>10.1%</i></div>
<div class="c w" style="left:1068px;top:347px;width:58px;height:30px;background:#4F7320"><i style="top:5.15px;left:-20.26px">Cmdty<br>9.7%</i></div>
<div class="c d" style="left:1068px;top:377px;width:58px;height:30px;background:#FFE5E5"><i style="top:4.9px;left:-20.26px">Lrge Grw<br>9.6%</i></div>
<div class="c d" style="left:1068px;top:407px;width:58px;height:30px;background:#92D050"><i style="top:4.65px;left:-20.26px">REIT<br>9.4%</i></div>
<div class="c w" style="left:1068px;top:437px;width:58px;height:29px;background:#FF1A1A"><i style="top:4.41px;left:-20.26px">Sm Grw<br>7.9%</i></div>
<div class="c w" style="left:1068px;top:466px;width:58px;height:30px;background:#0078A8"><i style="top:5.16px;left:-20.26px">Corp<br>6.7%</i></div>
<div class="c d" style="left:1068px;top:496px;width:58px;height:30px;background:#FFFF00"><i style="top:4.92px;left:-20.26px">Intl Mrkt<br>2.7%</i></div>
<div class="c d" style="left:1068px;top:526px;width:58px;height:29px;background:#00B0F0"><i style="top:4.67px;left:-20.26px">5-Yr Gov<br>1.9%</i></div>
<div class="c w" style="left:1068px;top:555px;width:58px;height:30px;background:#002060"><i style="top:5.42px;left:-20.26px">LT Gov<br>1.8%</i></div>
<div class="c d" style="left:1068px;top:585px;width:58px;height:32px;background:#BDDCF7"><i style="top:5.18px;left:-20.26px">T-Bills<br>0.2%</i></div>
<div class="c d" style="left:1126px;top:80px;width:61px;height:29px;background:#FFFFC4"><i style="top:4.36px;left:-19.55px">Emrg Mkt<br>37.3%</i></div>
<div class="c d" style="left:1126px;top:109px;width:61px;height:30px;background:#FFE5E5"><i style="top:5.11px;left:-19.55px">Lrge Grw<br>29.8%</i></div>
<div class="c d" style="left:1126px;top:139px;width:61px;height:29px;background:#FF4B4B"><i style="top:4.87px;left:-19.55px">Mid Grw<br>26.9%</i></div>
<div class="c w" style="left:1126px;top:168px;width:61px;height:31px;background:#FF1A1A"><i style="top:5.62px;left:-19.55px">Sm Grw<br>25.5%</i></div>
<div class="c d" style="left:1126px;top:199px;width:61px;height:29px;background:#FFFF00"><i style="top:4.38px;left:-19.55px">Intl Mrkt<br>24.2%</i></div>
<div class="c d" style="left:1126px;top:228px;width:61px;height:30px;background:#FDDEDE"><i style="top:5.13px;left:-19.55px">S&amp;P 500<br>21.8%</i></div>
<div class="c d" style="left:1126px;top:258px;width:61px;height:30px;background:#FFFFFF"><i style="top:4.88px;left:-19.55px">Lrge Val<br>19.6%</i></div>
<div class="c w" style="left:1126px;top:288px;width:61px;height:30px;background:#B8101C"><i style="top:4.64px;left:-19.55px">Mid Core<br>18.7%</i></div>
<div class="c d" style="left:1126px;top:318px;width:61px;height:29px;background:#FF3333"><i style="top:4.39px;left:-19.55px">Mid Val<br>15.8%</i></div>
<div class="c w" style="left:1126px;top:347px;width:61px;height:30px;background:#A00008"><i style="top:5.15px;left:-19.55px">Sm Core<br>13.2%</i></div>
<div class="c d" style="left:1126px;top:377px;width:61px;height:30px;background:#FF7C80"><i style="top:4.9px;left:-19.55px">Lrge Core<br>12.7%</i></div>
<div class="c w" style="left:1126px;top:407px;width:61px;height:30px;background:#0078A8"><i style="top:4.65px;left:-19.55px">Corp<br>12.3%</i></div>
<div class="c w" style="left:1126px;top:437px;width:61px;height:29px;background:#7A0A12"><i style="top:4.41px;left:-19.55px">Sm Val<br>9.5%</i></div>
<div class="c d" style="left:1126px;top:466px;width:61px;height:30px;background:#92D050"><i style="top:5.16px;left:-19.55px">REIT<br>9.3%</i></div>
<div class="c w" style="left:1126px;top:496px;width:61px;height:30px;background:#002060"><i style="top:4.92px;left:-19.55px">LT Gov<br>6.2%</i></div>
<div class="c w" style="left:1126px;top:526px;width:61px;height:29px;background:#4F7320"><i style="top:4.67px;left:-19.55px">Cmdty<br>1.7%</i></div>
<div class="c d" style="left:1126px;top:555px;width:61px;height:30px;background:#00B0F0"><i style="top:5.42px;left:-19.55px">5-Yr Gov<br>1.6%</i></div>
<div class="c d" style="left:1126px;top:585px;width:61px;height:32px;background:#BDDCF7"><i style="top:5.18px;left:-19.55px">T-Bills<br>0.8%</i></div>
<div class="hl"></div><div class="hl2"></div>
</body></html>
